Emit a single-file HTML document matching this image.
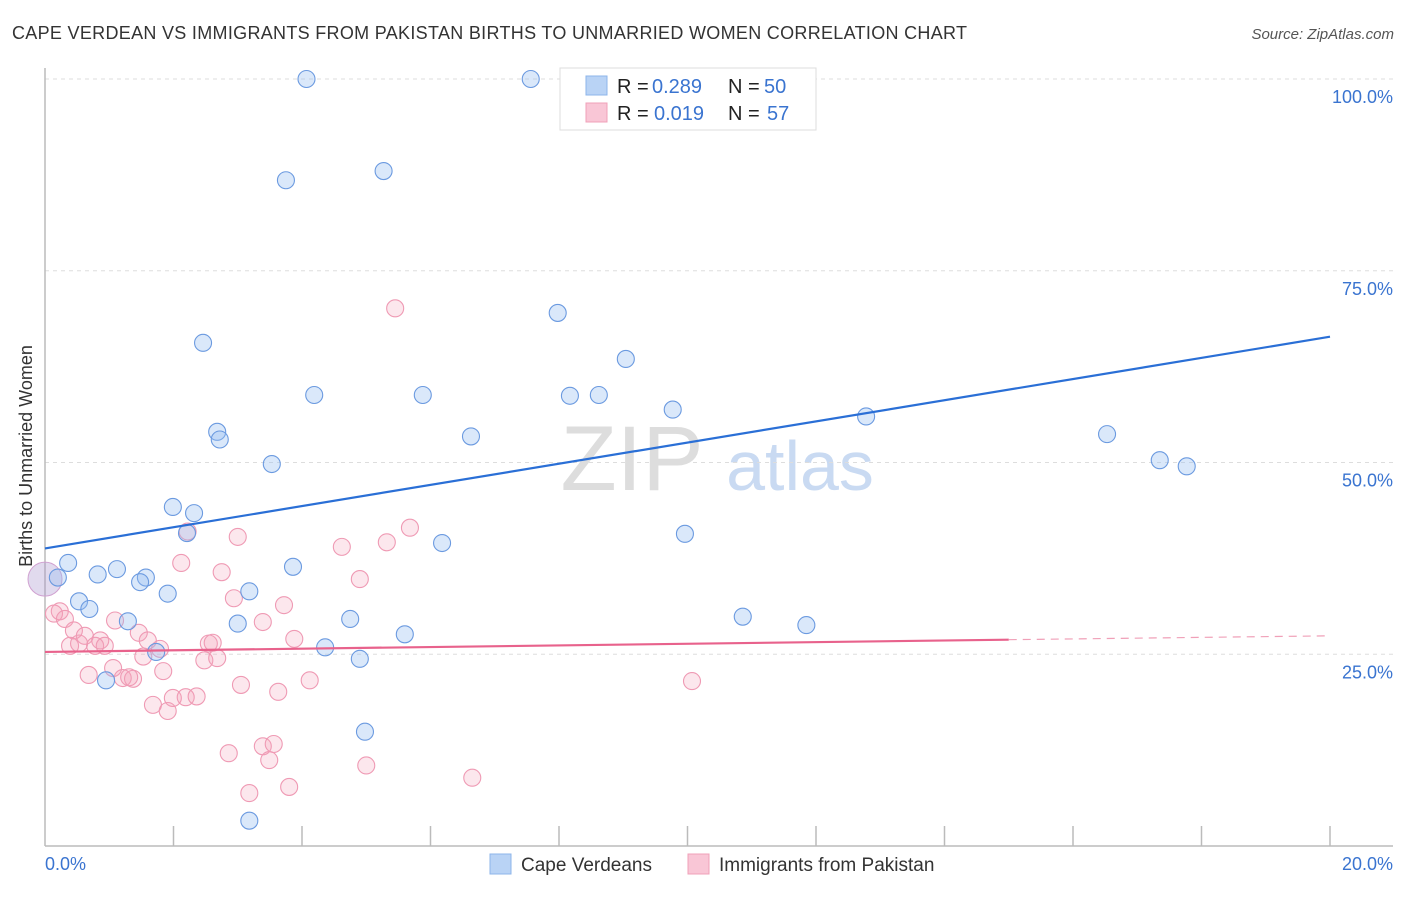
<!DOCTYPE html>
<html><head><meta charset="utf-8"><style>
body{margin:0;background:#fff;font-family:"Liberation Sans",sans-serif;}
svg text{font-family:"Liberation Sans",sans-serif;}
</style></head><body>
<svg id="chart" width="1406" height="892" xmlns="http://www.w3.org/2000/svg">
<text x="12" y="39" font-size="18" fill="#333" textLength="955" lengthAdjust="spacing">CAPE VERDEAN VS IMMIGRANTS FROM PAKISTAN BIRTHS TO UNMARRIED WOMEN CORRELATION CHART</text>
<text x="1394" y="39" font-size="15" fill="#555" font-style="italic" text-anchor="end">Source: ZipAtlas.com</text>
<text x="32" y="456" font-size="18" fill="#333" text-anchor="middle" transform="rotate(-90 32 456)">Births to Unmarried Women</text>
<g><text x="632" y="490" font-size="92" fill="#ddd" font-family="Liberation Serif" text-anchor="middle">ZIP</text><text x="800" y="490" font-size="70" fill="#c9daf2" text-anchor="middle">atlas</text></g>
<g id="grid"></g><g id="axes"></g><g id="pts"></g><g id="lines"></g>
<g>
<rect x="560" y="68" width="256" height="62" fill="#fff" stroke="#ddd"/>
<rect x="586" y="76" width="21" height="19" fill="#b9d3f5" stroke="#8db5ea"/>
<rect x="586" y="103" width="21" height="19" fill="#f9c6d6" stroke="#f0a0b8"/>
<text x="617" y="93" font-size="20" fill="#222">R =</text><text x="652" y="93" font-size="20" fill="#3a74d0">0.289</text>
<text x="728" y="93" font-size="20" fill="#222">N =</text><text x="764" y="93" font-size="20" fill="#3a74d0">50</text>
<text x="617" y="120" font-size="20" fill="#222">R =</text><text x="654" y="120" font-size="20" fill="#3a74d0">0.019</text>
<text x="728" y="120" font-size="20" fill="#222">N =</text><text x="767" y="120" font-size="20" fill="#3a74d0">57</text>
</g>
<g>
<rect x="490" y="854" width="21" height="20" fill="#b9d3f5" stroke="#8db5ea"/>
<text x="521" y="871" font-size="19" fill="#333">Cape Verdeans</text>
<rect x="688" y="854" width="21" height="20" fill="#f9c6d6" stroke="#f0a0b8"/>
<text x="719" y="871" font-size="19" fill="#333">Immigrants from Pakistan</text>
</g>
</svg>
<script>
const yTicks=[25,50,75,100];
const xTickLabels=["0.0%","20.0%"];
const blueX=[4.07,7.56,3.75,5.27,7.98,2.46,9.04,4.19,5.88,8.17,8.62,9.77,12.78,2.68,2.72,6.63,16.53,17.35,17.77,3.53,1.99,2.32,2.21,9.96,6.18,0.36,3.86,1.12,0.82,1.57,1.48,0.2,1.91,3.18,0.53,0.69,1.29,3.0,4.75,10.86,11.85,5.6,4.36,1.73,4.9,0.95,4.98,3.18];
const blueY=[100,100,86.8,88,69.5,65.6,63.5,58.8,58.8,58.7,58.8,56.9,56,54,53,53.4,53.7,50.3,49.5,49.8,44.2,43.4,40.8,40.7,39.5,36.9,36.4,36.1,35.4,35,34.4,35,32.9,33.2,31.9,30.9,29.3,29,29.6,29.9,28.8,27.6,25.9,25.3,24.4,21.6,14.9,3.3];
const pinkX=[5.45,5.68,2.22,3.0,4.62,5.32,2.12,2.75,4.9,2.94,3.72,3.39,1.09,0.23,0.14,0.31,0.45,1.46,0.62,0.86,3.88,1.6,2.55,2.61,0.39,0.78,0.93,1.79,0.53,2.48,2.68,0.68,1.53,1.06,1.84,1.21,1.37,1.31,3.05,3.63,4.12,10.07,1.68,1.91,1.99,2.19,2.36,2.86,3.39,3.56,3.49,3.18,3.8,5.0,6.65];
const pinkY=[70.1,41.5,41,40.3,39,39.6,36.9,35.7,34.8,32.3,31.4,29.2,29.4,30.6,30.3,29.6,28.1,27.8,27.4,26.8,27,26.8,26.4,26.5,26.1,26.1,26.1,25.7,26.4,24.2,24.5,22.3,24.7,23.2,22.8,21.9,21.8,22.0,21.0,20.1,21.6,21.5,18.4,17.6,19.3,19.4,19.5,12.1,13.0,13.3,11.2,6.9,7.7,10.5,8.9];
const blueLine=[38.8,66.4], pinkLine=[25.3,26.9,27.4];
const X0=45,X1=1330,YB=846,YT=79;
const sx=v=>X0+v/20*(X1-X0), sy=v=>YB-v/100*(YB-YT);
const NS="http://www.w3.org/2000/svg";
function mk(tag,attrs,parent){const e=document.createElementNS(NS,tag);for(const k in attrs)e.setAttribute(k,attrs[k]);document.getElementById(parent).appendChild(e);return e;}
yTicks.forEach(t=>{
 const g=mk('line',{x1:X0,x2:1393,y1:sy(t),y2:sy(t),stroke:'#ddd','stroke-dasharray':'4,4'},'grid');
 
 
 const l=mk('text',{x:1393,y:sy(t)+24,'font-size':18,fill:'#3a74d0','text-anchor':'end'},'grid');
 l.textContent=t.toFixed(1)+'%';
 
 
});
const ax=mk('line',{x1:X0,x2:X0,y1:68,y2:YB,stroke:'#bbb','stroke-width':1.5},'axes');


const bx=mk('line',{x1:X0,x2:1393,y1:YB,y2:YB,stroke:'#bbb','stroke-width':1.5},'axes');


for(let i=1;i<=10;i++){const t=mk('line',{x1:sx(i*2),x2:sx(i*2),y1:826,y2:YB,stroke:'#bbb','stroke-width':1.5},'axes');
 
 }
[[0,'start',45],[20,'end',1393]].forEach((d,i)=>{const t=mk('text',{x:d[2],y:870,'font-size':18,fill:'#3a74d0','text-anchor':d[1]},'axes');t.textContent=xTickLabels[i];
 
 });
const big1=mk('circle',{cx:sx(0),cy:sy(34.8),r:17,fill:'rgba(170,150,205,0.35)',stroke:'#d0a0d0'},'pts');


pinkX.forEach((x,i)=>{const c=mk('circle',{cx:sx(x),cy:sy(pinkY[i]),r:8.5,fill:'rgba(244,160,185,0.25)',stroke:'#ef9ab4','stroke-width':1.1},'pts');
 
 });
blueX.forEach((x,i)=>{const c=mk('circle',{cx:sx(x),cy:sy(blueY[i]),r:8.5,fill:'rgba(150,190,240,0.35)',stroke:'#6b9ae0','stroke-width':1.1},'pts');
 
 });
const bl=mk('line',{x1:sx(0),y1:sy(blueLine[0]),x2:sx(20),y2:sy(blueLine[1]),stroke:'#2a6fd6','stroke-width':2.2},'lines');


const pl=mk('line',{x1:sx(0),y1:sy(pinkLine[0]),x2:sx(15),y2:sy(pinkLine[1]),stroke:'#e8628c','stroke-width':2.2},'lines');


const pd=mk('line',{x1:sx(15),y1:sy(pinkLine[1]),x2:sx(20),y2:sy(pinkLine[2]),stroke:'#f0a0b8','stroke-width':1.2,'stroke-dasharray':'8,6'},'lines');


</script>
</body></html>
